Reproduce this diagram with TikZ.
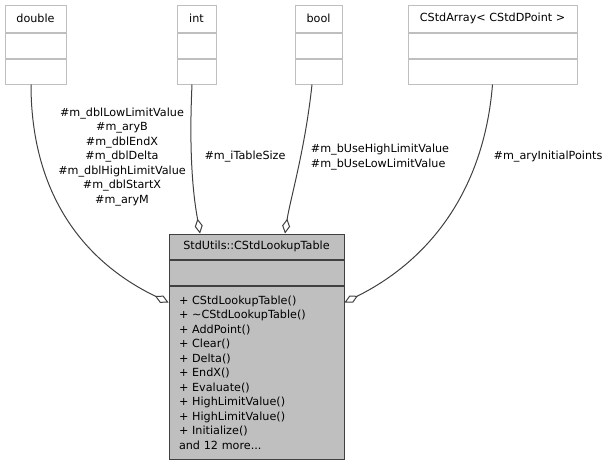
\documentclass[tikz,border=0pt]{standalone}
\usepackage{fontspec}
\setmainfont{DejaVu Sans}
\usetikzlibrary{positioning,arrows.meta}
\definecolor{edgegray}{HTML}{404040}
\definecolor{boxgray}{HTML}{BFBFBF}

\begin{document}
\begin{tikzpicture}[
						x=1pt, y=-1pt, line width=1pt,
						font=\fontsize{11.2}{14.5}\selectfont,
						cls/.style = {draw=boxgray, fill=white, inner sep=0pt, minimum height=27pt},
						part/.style = {draw=boxgray, fill=white, inner sep=0pt, minimum height=25pt},
						self/.style = {draw=edgegray, fill=boxgray, inner sep=0pt, minimum width=175pt, minimum height=25pt},
						agg/.style = {draw=edgegray, -{Diamond[open, fill=white, length=15pt, width=8pt]}},
						lbl/.style = {align=center, inner sep=0pt}
					]
					\useasboundingbox (0,0) rectangle (609,463);
					% member types
					\node[cls, minimum width=61pt] (dbl) at (35.5,18.5) {double};
					\node[part, minimum width=61pt, below=0pt of dbl] (dblA) {};
					\node[part, minimum width=61pt, below=0pt of dblA] (dblB) {};
					\node[cls, minimum width=39pt] (int) at (196.5,18.5) {int};
					\node[part, minimum width=39pt, below=0pt of int] (intA) {};
					\node[part, minimum width=39pt, below=0pt of intA] (intB) {};
					\node[cls, minimum width=47pt] (bool) at (318.5,18.5) {bool};
					\node[part, minimum width=47pt, below=0pt of bool] (boolA) {};
					\node[part, minimum width=47pt, below=0pt of boolA] (boolB) {};
					\node[cls, minimum width=169pt] (arr) at (492.5,18.5) {CStdArray< CStdDPoint >};
					\node[part, minimum width=169pt, below=0pt of arr] (arrA) {};
					\node[part, minimum width=169pt, below=0pt of arrA] (arrB) {};
					% the class itself
					\node[self] (tbl) at (256.5,246.5) {StdUtils::CStdLookupTable};
					\node[self, below=0pt of tbl] (tblA) {};
					\node[self, below=0pt of tblA, minimum height=173pt, inner xsep=10pt, text width=155pt, align=left] (tblB)
						{+ CStdLookupTable()\\+ \textasciitilde CStdLookupTable()\\+ AddPoint()\\+ Clear()\\+ Delta()\\+ EndX()\\+ Evaluate()\\+ HighLimitValue()\\+ HighLimitValue()\\+ Initialize()\\and 12 more...};
					% labels
					\node[lbl] (ldbl) at (122,157) {\#m\_dblLowLimitValue\\\#m\_aryB\\\#m\_dblEndX\\\#m\_dblDelta\\\#m\_dblHighLimitValue\\\#m\_dblStartX\\\#m\_aryM};
					\node[lbl] (lint) at (245,157) {\#m\_iTableSize};
					\node[lbl, align=left] (lbool) at (380,157) {\#m\_bUseHighLimitValue\\\#m\_bUseLowLimitValue};
					\node[lbl] (larr) at (548,157) {\#m\_aryInitialPoints};
					% aggregations
					\draw[agg] ([xshift=-4.5pt]dblB.south) .. controls (31,190) and (80,260) .. ([yshift=-17pt]tblB.north west);
					\draw[agg] ([xshift=-4.5pt]intB.south) .. controls (188,170) and (196,210) .. ([xshift=-56.5pt]tbl.north);
					\draw[agg] ([xshift=-6.5pt]boolB.south) .. controls (305,150) and (290,200) .. ([xshift=28.5pt]tbl.north);
					\draw[agg] (arrB.south) .. controls (484,190) and (430,260) .. ([yshift=-17pt]tblB.north east);
				\end{tikzpicture}
\end{document}
